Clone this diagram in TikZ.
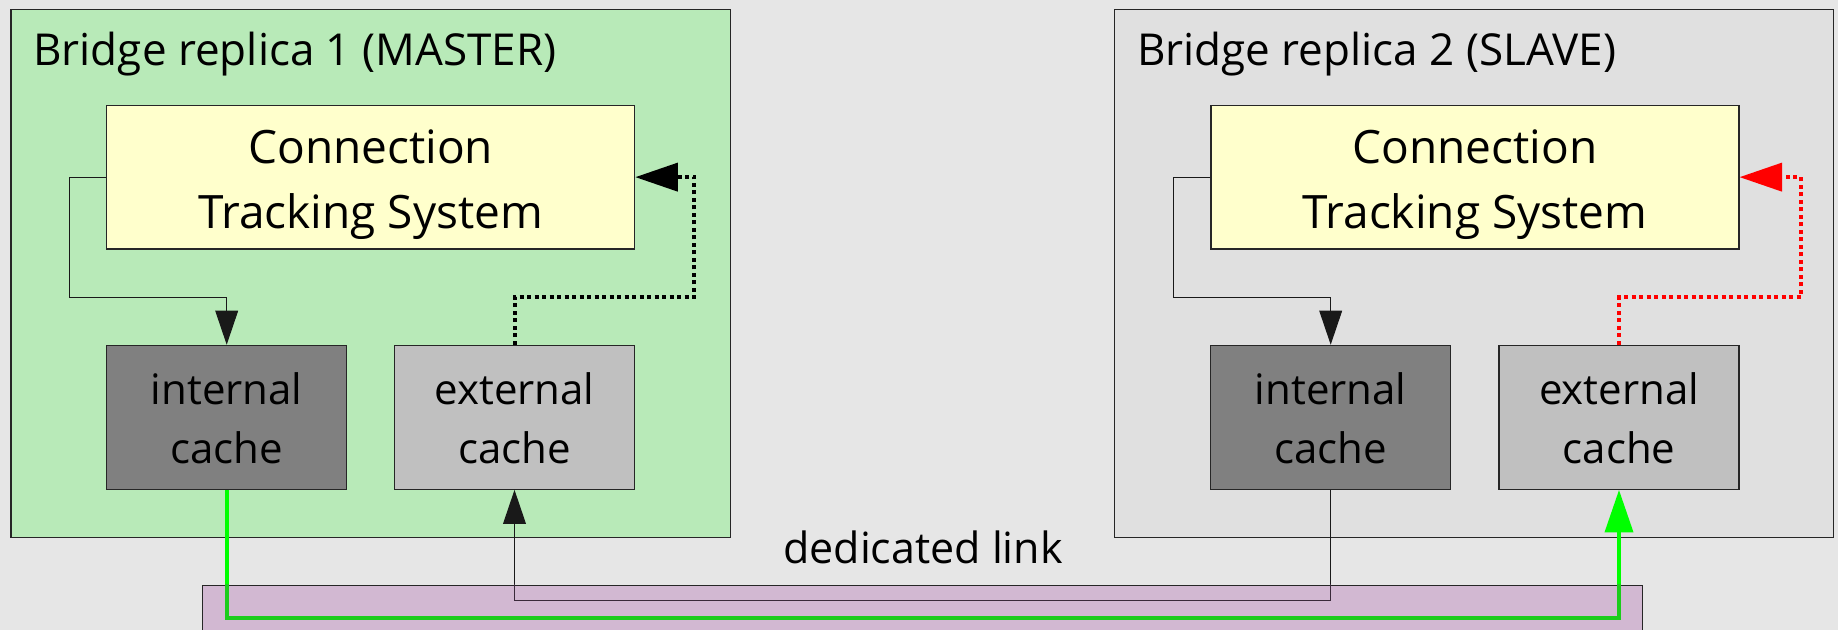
\documentclass[tikz,border=0pt]{standalone}
\usepackage{fontspec}
\setmainfont{Open Sans}
\usetikzlibrary{arrows.meta}
\definecolor{bgcol}{HTML}{E6E6E6}
\definecolor{masterfill}{HTML}{B8EAB8}
\definecolor{slavefill}{HTML}{E0E0E0}
\definecolor{ctsfill}{HTML}{FFFFCC}
\definecolor{intfill}{HTML}{808080}
\definecolor{extfill}{HTML}{C0C0C0}
\definecolor{linkfill}{HTML}{D2B8D2}
\definecolor{greenline}{HTML}{00FF00}
\definecolor{greendark}{HTML}{1CCC1C}
\definecolor{redline}{HTML}{FF0000}
\definecolor{linkdark}{HTML}{3A2A3A}
\begin{document}
\begin{tikzpicture}[x=0.5pt,y=-0.5pt,
  box/.style={draw=black!85, line width=0.6pt, inner sep=0pt, rectangle},
  repbox/.style={box, minimum width=359.65pt, minimum height=264pt},
  ctsbox/.style={box, fill=ctsfill, minimum width=264pt, minimum height=71.85pt},
  cachebox/.style={box, minimum width=120pt, minimum height=72pt},
  ttl/.style={inner sep=0pt, anchor=base west, font=\fontsize{22}{22}\selectfont},
  ctstxt/.style={inner sep=0pt, anchor=base, font=\fontsize{23}{23}\selectfont},
  cachetxt/.style={inner sep=0pt, anchor=base, font=\fontsize{21}{21}\selectfont},
  thinline/.style={draw=black!90, line width=0.5pt},
  thinarr/.style={thinline, -{Triangle[length=17pt,width=11.4pt]}},
  dotline/.style={line width=2pt, dash pattern=on 2pt off 1.75pt},
  dotarr/.style={dotline, -{Triangle[length=21.3pt,width=14pt]}},
  greenarr/.style={draw=greenline, line width=2pt, -{Triangle[length=21.3pt,width=14pt]}}
]
\useasboundingbox (0,0) rectangle (1838,630);
\fill[bgcol] (0,0) rectangle (1838,630);

% replica boxes
\node[repbox, fill=masterfill] (repL) at (370.65,273.3) {};
\node[repbox, fill=slavefill] (repR) at (1474,273.3) {};
\node[ttl] (ttlL) at (33,66) {Bridge replica 1 (MASTER)};
\node[ttl] (ttlR) at (1136.7,66) {Bridge replica 2 (SLAVE)};

% connection tracking systems
\node[ctsbox] (ctsL) at (370.7,177.15) {};
\node[ctsbox] (ctsR) at (1474.9,177.15) {};
\node[ctstxt] (ctsL1) at (370.7,163.2) {Connection};
\node[ctstxt] (ctsL2) at (370.7,228.6) {Tracking System};
\node[ctstxt] (ctsR1) at (1474.9,163.2) {Connection};
\node[ctstxt] (ctsR2) at (1474.9,228.6) {Tracking System};

% caches
\node[cachebox, fill=intfill] (intL) at (226.7,417.3) {};
\node[cachebox, fill=extfill] (extL) at (514.5,417.3) {};
\node[cachebox, fill=intfill] (intR) at (1330.7,417.3) {};
\node[cachebox, fill=extfill] (extR) at (1619,417.3) {};
\foreach \n/\x/\w in {intLt/226.7/internal, extLt/514.5/external, intRt/1330.7/internal, extRt/1619/external}{
  \node[cachetxt] (\n1) at (\x,405) {\w};
  \node[cachetxt] (\n2) at (\x,463.6) {cache};
}

% dedicated link
\node[box, fill=linkfill, minimum width=719.8pt, minimum height=32.4pt] (link) at (922.5,617.6) {};
\node[cachetxt, font=\fontsize{21.5}{21.5}\selectfont] (linktxt) at (923,564) {dedicated link};

% internal connectors
\coordinate (kL) at (69.4,297.3);
\coordinate (kR) at (1173.1,297.3);
\coordinate (dL) at (694.3,297.3);
\coordinate (dR) at (1800.7,297.3);
\draw[thinarr] (ctsL.west) -| (kL) -| (intL.north);
\draw[thinarr] (ctsR.west) -| (kR) -| (intR.north);
\draw[dotarr, draw=black] (extL.north) |- (dL) |- (ctsL.east);
\draw[dotarr, draw=redline] (extR.north) |- (dR) |- (ctsR.east);

% link connectors
\coordinate (gy) at (0,618.3);
\coordinate (ty) at (0,601);
\draw[greenarr] (intL.south) -- (intL.south |- gy) -| (extR.south);
\draw[thinarr] (intR.south) -- (intR.south |- ty) -| (extL.south);
\begin{scope}
  \clip (link.south west) rectangle (link.north east);
  \draw[draw=greendark, line width=2pt] (intL.south) -- (intL.south |- gy) -| (extR.south);
  \draw[draw=linkdark, line width=0.5pt] (intR.south) -- (intR.south |- ty) -| (extL.south);
\end{scope}
\end{tikzpicture}
\end{document}
